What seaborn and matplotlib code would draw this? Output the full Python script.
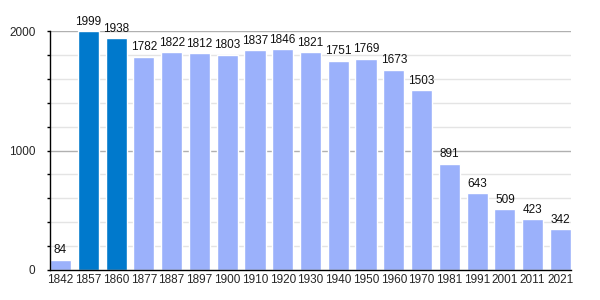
import matplotlib
matplotlib.use("Agg")
import matplotlib.pyplot as plt
import seaborn as sns
import pandas as pd

years = ["1842", "1857", "1860", "1877", "1887", "1897", "1900", "1910", "1920", "1930",
         "1940", "1950", "1960", "1970", "1981", "1991", "2001", "2011", "2021"]
population = [84, 1999, 1938, 1782, 1822, 1812, 1803, 1837, 1846, 1821,
              1751, 1769, 1673, 1503, 891, 643, 509, 423, 342]
highlight = ["1857", "1860"]

light = "#9bb1fb"
dark = "#0079cc"
palette = {y: (dark if y in highlight else light) for y in years}

df = pd.DataFrame({"year": years, "pop": population})

sns.set_style("white")
plt.rcParams["font.family"] = ["Liberation Sans", "DejaVu Sans"]

fig = plt.figure(figsize=(6, 3), dpi=100)
ax = fig.add_axes([50/600, 30/300, 521/600, 239/300])

w = 0.76
# grid lines
for v in range(200, 2001, 200):
    major = v % 1000 == 0
    ax.axhline(v, color="#b0b0b0" if major else "#e4e4e4", lw=1.0, zorder=0)

sns.barplot(data=df, x="year", y="pop", hue="year", palette=palette, legend=False,
            width=w, ax=ax, saturation=1, zorder=2)

for i, v in enumerate(population):
    ax.text(i, v + 30, str(v), ha="center", va="bottom", fontsize=8.5, color="#111111", zorder=3)

ax.set_xlim(-w/2, len(years) - 1 + w/2)
ax.set_ylim(0, 2000)
ax.set_yticks([0, 1000, 2000])
ax.set_yticks(list(range(200, 2000, 200)), minor=True)
ax.tick_params(axis="y", which="both", direction="out", length=2.5, width=1, color="black",
               left=True, labelsize=8.5, pad=8)
ax.tick_params(axis="x", length=0, labelsize=8.5, pad=3)
ax.set_xlabel("")
ax.set_ylabel("")
for s in ["top", "right"]:
    ax.spines[s].set_visible(False)
ax.spines["left"].set_color("black")
ax.spines["bottom"].set_color("black")
ax.spines["left"].set_linewidth(1)
ax.spines["bottom"].set_linewidth(1)

fig.savefig("out.png", dpi=100)
